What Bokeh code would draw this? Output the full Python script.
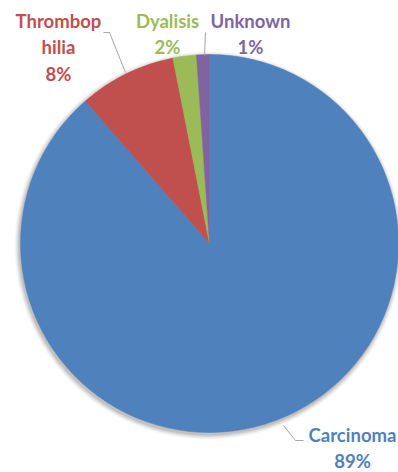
import math
from bokeh.plotting import figure
from bokeh.models import Range1d, ColumnDataSource
from bokeh.core.properties import value
from bokeh.embed import file_html
from bokeh.resources import INLINE

# ---- data ----
categories = ["Carcinoma", "Thrombophilia", "Dyalisis", "Unknown"]
label_names = ["Carcinoma", "Thrombop\nhilia", "Dyalisis", "Unknown"]
shares = [88.6, 8.3, 2.0, 1.1]
colors = ["#4F81BD", "#C0504D", "#9BBB59", "#8064A2"]

# ---- layout (page pixels) ----
W, H = 398, 472
def X(px):
    return px
def Y(py):
    return H - py

cx, cy, R = X(209), Y(243), 189
label_pos = {  # centre-x, top-y of the label block
    "Carcinoma": (352, 423),
    "Thrombophilia": (58, 9.5),
    "Dyalisis": (167, 9.5),
    "Unknown": (250, 9.5),
}
leaders = [
    ([103, 109, 125], [32, 32, 72]),
    ([205, 204], [32, 55]),
    ([283, 295, 303], [425, 440, 440]),
]

p = figure(width=W, height=H, output_backend="svg", toolbar_location=None,
           x_range=Range1d(0, W), y_range=Range1d(0, H), min_border=0)
p.axis.visible = False
p.grid.visible = False
p.outline_line_color = None
p.background_fill_color = "white"
p.border_fill_color = "white"

# soft shadow
for k, a in [(5, 0.03), (4, 0.04), (3, 0.05), (2, 0.06), (1, 0.08)]:
    p.circle(x=cx - 1, y=cy - 2, radius=R + k, fill_color="#000000",
             fill_alpha=a, line_color=None)

total = sum(shares)
starts, ends = [], []
cum = 0.0
for v in shares:
    starts.append(math.pi / 2 - 2 * math.pi * cum / total)
    cum += v
    ends.append(math.pi / 2 - 2 * math.pi * cum / total)

src = ColumnDataSource(dict(cat=categories, start=starts, end=ends, color=colors))
p.wedge(x=cx, y=cy, radius=R, start_angle="start", end_angle="end",
        direction="clock", fill_color="color", line_color="color",
        line_width=0.5, source=src)

for xs, ys in leaders:
    p.line([X(v) for v in xs], [Y(v) for v in ys], line_color="#A6A6A6", line_width=1)

texts, tx, ty = [], [], []
for cat, name, v in zip(categories, label_names, shares):
    pct = int(math.floor(v / total * 100 + 0.5))
    texts.append(f"{name}\n{pct}%")
    lx, ly = label_pos[cat]
    tx.append(X(lx))
    ty.append(Y(ly))
lsrc = ColumnDataSource(dict(x=tx, y=ty, t=texts, c=colors))
p.text(x="x", y="y", text="t", text_color="c", source=lsrc,
       text_font=value("Lato"), text_font_style="bold", text_font_size="18.5px",
       text_align="center", text_baseline="top", text_line_height=1.2)

open("out.html", "w").write(file_html(p, INLINE))
